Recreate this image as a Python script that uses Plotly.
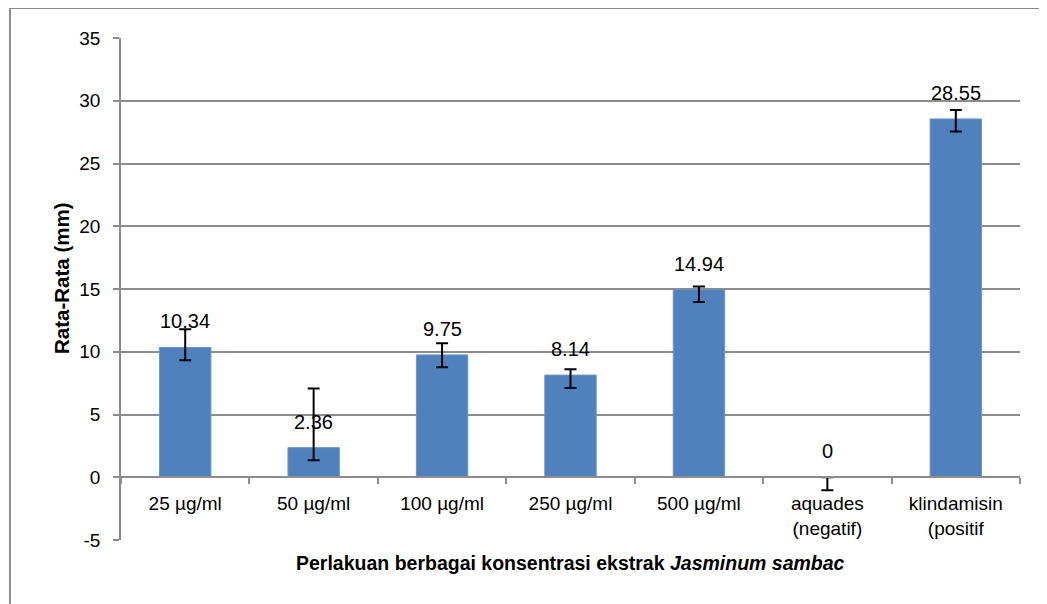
import plotly.graph_objects as go

categories = ["25 µg/ml", "50 µg/ml", "100 µg/ml", "250 µg/ml", "500 µg/ml",
              "aquades<br>(negatif)", "klindamisin<br>(positif"]
means = [10.34, 2.36, 9.75, 8.14, 14.94, 0, 28.55]
err_plus = [1.45, 4.71, 0.93, 0.46, 0.25, 0.0, 0.72]
err_minus = [1.01, 1.00, 0.98, 1.02, 0.98, 1.03, 1.01]
value_labels = ["10.34", "2.36", "9.75", "8.14", "14.94", "0", "28.55"]

y_ticks = [-5, 0, 5, 10, 15, 20, 25, 30, 35]

FONT = "Liberation Sans, Arial, sans-serif"
GRID = "#8c8c8c"

fig = go.Figure()
fig.add_trace(go.Bar(
    x=categories, y=means,
    marker=dict(color="#4f81bd", line=dict(color="#6a95c9", width=1)),
    error_y=dict(type="data", symmetric=False, array=err_plus, arrayminus=err_minus,
                 color="black", thickness=2, width=6),
    hoverinfo="skip",
))

annotations = []
for c, v, t in zip(categories, means, value_labels):
    annotations.append(dict(x=c, y=v, xref="x", yref="y", text=t, showarrow=False,
                            yanchor="middle", yshift=26,
                            font=dict(family=FONT, size=20, color="black")))

annotations.append(dict(xref="paper", yref="paper", x=0.5, y=-0.046,
                        text="<b>Perlakuan berbagai konsentrasi ekstrak <i>Jasminum sambac</i></b>",
                        showarrow=False, xanchor="center", yanchor="middle",
                        font=dict(family=FONT, size=19.5, color="black")))
annotations.append(dict(xref="paper", yref="paper", x=-0.0656, y=0.522,
                        text="<b>Rata-Rata (mm)</b>", textangle=-90,
                        showarrow=False, xanchor="center", yanchor="middle",
                        font=dict(family=FONT, size=20.5, color="black")))

fig.update_layout(
    width=1039, height=596,
    margin=dict(l=113, r=27, t=30, b=64),
    paper_bgcolor="white", plot_bgcolor="white",
    showlegend=False,
    bargap=0.6,
    font=dict(family=FONT, size=19, color="black"),
    annotations=annotations,
    shapes=[
        dict(type="line", xref="paper", yref="paper", x0=-0.1235, x1=-0.1235, y0=-0.2, y1=1.0598,
             line=dict(color="#8c8c8c", width=2)),
        dict(type="line", xref="paper", yref="paper", x0=-0.1235, x1=1.05, y0=1.0598, y1=1.0598,
             line=dict(color="#8c8c8c", width=2)),
    ],
    xaxis=dict(
        type="category", anchor="free", position=0.125,
        showline=True, linecolor=GRID, linewidth=1.5,
        ticks="outside", tickson="boundaries", ticklen=6, tickcolor=GRID, tickwidth=1.5,
        showgrid=False, ticklabelstandoff=9,
        tickfont=dict(family=FONT, size=19, color="black"),
    ),
    yaxis=dict(
        range=[-5, 35], tickvals=y_ticks, ticktext=[str(v) for v in y_ticks],
        showline=True, linecolor=GRID, linewidth=1.5,
        ticks="outside", ticklen=6, tickcolor=GRID, tickwidth=1.5,
        showgrid=True, gridcolor=GRID, gridwidth=1.5,
        zeroline=False, ticklabelstandoff=9,
        tickfont=dict(family=FONT, size=19, color="black"),
    ),
)

fig.write_html("out.html")
